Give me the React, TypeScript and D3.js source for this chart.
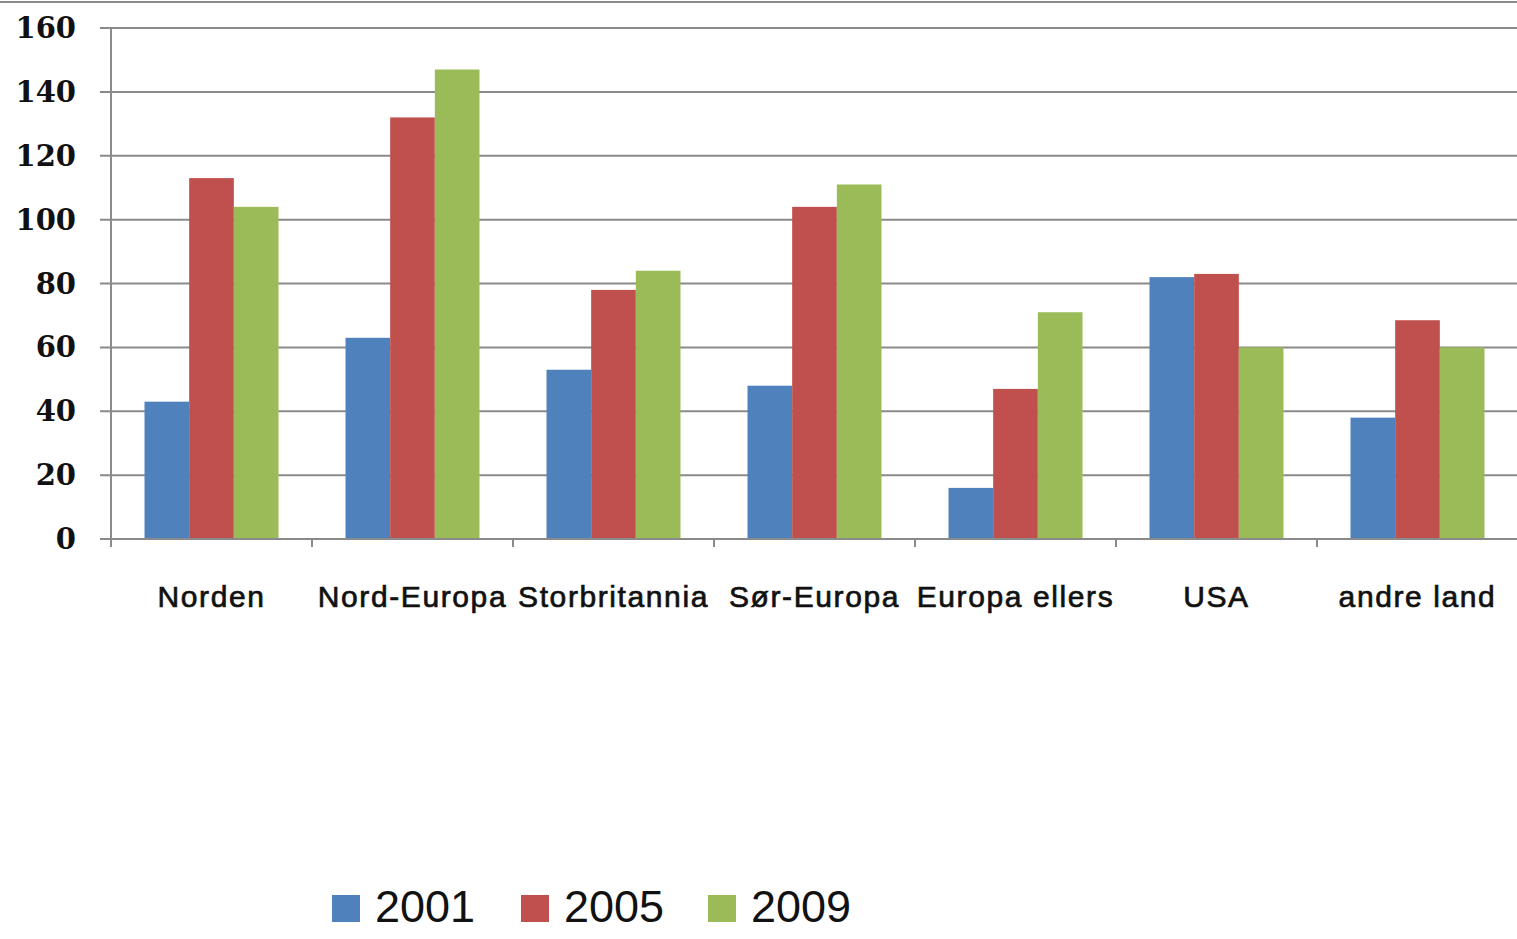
import React, { useEffect, useRef } from "react"
import * as d3 from "d3"

const categories = ["Norden", "Nord-Europa", "Storbritannia", "Sør-Europa", "Europa ellers", "USA", "andre land"]
const seriesNames = ["2001", "2005", "2009"]
const values2001 = [43, 63, 53, 48, 16, 82, 38]
const values2005 = [113, 132, 78, 104, 47, 83, 68.5]
const values2009 = [104, 147, 84, 111, 71, 60, 60]
const yTicks = [0, 20, 40, 60, 80, 100, 120, 140, 160]
const colors = ["#4f81bd", "#c0504d", "#9bbb59"]

const App = () => {
	const ref = useRef<SVGSVGElement>(null)

	useEffect(() => {
		document.body.style.margin = "0"
		const width = 1517
		const height = 939
		const marginLeft = 111
		const marginTop = 28
		const plotBottom = 539
		const band = 201

		const svg = d3.select(ref.current).attr("width", width).attr("height", height)
		svg.selectAll("*").remove()

		svg.append("rect").attr("width", width).attr("height", height).attr("fill", "#fff")

		// top frame line
		svg
			.append("line")
			.attr("x1", 0)
			.attr("x2", width)
			.attr("y1", 2)
			.attr("y2", 2)
			.attr("stroke", "#8c8c8c")
			.attr("stroke-width", 2)

		const x = d3
			.scaleBand()
			.domain(categories)
			.range([marginLeft, marginLeft + band * categories.length])
			.padding(0)

		const xInner = d3
			.scaleBand()
			.domain(seriesNames)
			.range([33.5, band - 33.5])
			.padding(0)

		const y = d3.scaleLinear().domain([0, 160]).range([plotBottom, marginTop])

		// gridlines
		svg
			.append("g")
			.selectAll("line")
			.data(yTicks)
			.enter()
			.append("line")
			.attr("x1", marginLeft - 11)
			.attr("x2", width)
			.attr("y1", d => y(d))
			.attr("y2", d => y(d))
			.attr("stroke", "#8a8a8a")
			.attr("stroke-width", 2)

		// y tick labels
		svg
			.append("g")
			.selectAll("text")
			.data(yTicks)
			.enter()
			.append("text")
			.attr("x", 76)
			.attr("y", d => y(d) + 10)
			.attr("text-anchor", "end")
			.style("font-family", "DejaVu Serif")
			.style("font-weight", "bold")
			.style("font-size", "29px")
			.style("fill", "#111")
			.text(d => d)

		// bars
		const allValues = [values2001, values2005, values2009]
		seriesNames.forEach((name, si) => {
			svg
				.append("g")
				.selectAll("rect")
				.data(categories.map((c, i) => ({ c, v: allValues[si][i] })))
				.enter()
				.append("rect")
				.attr("x", d => (x(d.c) as number) + (xInner(name) as number))
				.attr("y", d => y(d.v))
				.attr("width", xInner.bandwidth())
				.attr("height", d => plotBottom - y(d.v))
				.attr("fill", colors[si])
		})

		// y axis line
		svg
			.append("line")
			.attr("x1", marginLeft)
			.attr("x2", marginLeft)
			.attr("y1", marginTop)
			.attr("y2", plotBottom + 8)
			.attr("stroke", "#8a8a8a")
			.attr("stroke-width", 2)

		// x axis line + category ticks
		svg
			.append("line")
			.attr("x1", marginLeft - 11)
			.attr("x2", width)
			.attr("y1", plotBottom)
			.attr("y2", plotBottom)
			.attr("stroke", "#8a8a8a")
			.attr("stroke-width", 2)

		svg
			.append("g")
			.selectAll("line")
			.data(categories)
			.enter()
			.append("line")
			.attr("x1", d => x(d) as number)
			.attr("x2", d => x(d) as number)
			.attr("y1", plotBottom)
			.attr("y2", plotBottom + 8)
			.attr("stroke", "#8a8a8a")
			.attr("stroke-width", 2)

		// category labels
		svg
			.append("g")
			.selectAll("text")
			.data(categories)
			.enter()
			.append("text")
			.attr("x", d => (x(d) as number) + x.bandwidth() / 2)
			.attr("y", 607)
			.attr("text-anchor", "middle")
			.style("font-family", "Liberation Sans")
			.style("font-size", "30px")
			.style("letter-spacing", "1.6px")
			.style("fill", "#111")
			.style("stroke", "#111")
			.style("stroke-width", 0.7)
			.text(d => d)

		// legend
		const legendX = [332, 521, 708]
		const legend = svg
			.append("g")
			.selectAll("g")
			.data(seriesNames)
			.enter()
			.append("g")
			.attr("transform", (d, i) => `translate(${legendX[i]}, 895)`)

		legend
			.append("rect")
			.attr("width", 28)
			.attr("height", 27)
			.attr("fill", (d, i) => colors[i])

		legend
			.append("text")
			.attr("x", 43)
			.attr("y", 27)
			.style("font-family", "Liberation Sans")
			.style("font-size", "45px")
			.style("fill", "#111")
			.text(d => d)
	}, [])

	return <svg ref={ref}></svg>
}

export default App
